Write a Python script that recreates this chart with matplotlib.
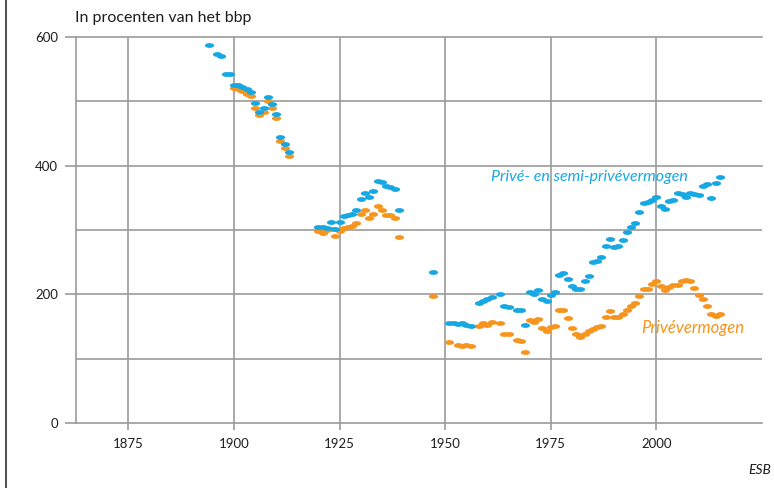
import numpy as np
import matplotlib
matplotlib.use("Agg")
import matplotlib.pyplot as plt
from matplotlib.path import Path
from matplotlib.lines import Line2D

# Privé- en semi-privévermogen (blauw)
blue_years = [1894, 1896, 1897, 1898, 1899, 1900, 1901, 1902, 1903, 1904, 1905, 1906, 1907, 1908, 1909,
              1910, 1911, 1912, 1913,
              1920, 1921, 1922, 1923, 1924, 1925, 1926, 1927, 1928, 1929, 1930, 1931, 1932, 1933, 1934,
              1935, 1936, 1937, 1938, 1939, 1947,
              1951, 1952, 1953, 1954, 1955, 1956, 1958, 1959, 1960, 1961, 1963, 1964, 1965, 1967, 1968,
              1969, 1970, 1971, 1972, 1973, 1974, 1975, 1976, 1977, 1978, 1979, 1980, 1981, 1982, 1983,
              1984, 1985, 1986, 1987, 1988, 1989, 1990, 1991, 1992, 1993, 1994, 1995, 1996, 1997, 1998,
              1999, 2000, 2001, 2002, 2003, 2004, 2005, 2006, 2007, 2008, 2009, 2010, 2011, 2012, 2013,
              2014, 2015]
blue_vals = [588, 574, 570, 543, 543, 526, 525, 522, 519, 515, 497, 484, 490, 507, 496,
             480, 445, 434, 421,
             304, 304, 303, 313, 302, 313, 321, 323, 325, 331, 348, 358, 351, 361, 376,
             374, 369, 367, 364, 331, 235,
             155, 155, 154, 156, 153, 151, 187, 190, 192, 196, 200, 182, 181, 176, 175,
             153, 204, 200, 207, 192, 190, 199, 203, 230, 233, 224, 213, 208, 208, 220,
             228, 251, 252, 258, 275, 286, 274, 275, 285, 297, 305, 311, 328, 342, 344,
             347, 352, 337, 332, 345, 346, 357, 356, 351, 357, 356, 355, 368, 371, 350,
             373, 383]

# Privévermogen (oranje)
orange_years = [1900, 1901, 1902, 1903, 1904, 1905, 1906, 1907, 1908, 1909, 1910, 1911, 1912, 1913,
                1920, 1921, 1922, 1923, 1924, 1925, 1926, 1927, 1928, 1929, 1930, 1931, 1932, 1933,
                1934, 1935, 1936, 1937, 1938, 1939, 1947,
                1951, 1953, 1954, 1955, 1956, 1958, 1959, 1960, 1961, 1963, 1964, 1965, 1967, 1968,
                1969, 1970, 1971, 1972, 1973, 1974, 1975, 1976, 1977, 1978, 1979, 1980, 1981, 1982,
                1983, 1984, 1985, 1986, 1987, 1988, 1989, 1990, 1991, 1992, 1993, 1994, 1995, 1996,
                1997, 1998, 1999, 2000, 2001, 2002, 2003, 2004, 2005, 2006, 2007, 2008, 2009, 2010,
                2011, 2012, 2013, 2014, 2015]
orange_vals = [520, 519, 516, 512, 509, 490, 478, 484, 501, 490, 474, 439, 428, 415,
               298, 296, 300, 302, 291, 298, 303, 304, 306, 311, 325, 331, 319, 325,
               337, 331, 323, 323, 319, 289, 197,
               126, 121, 120, 121, 119, 151, 155, 153, 157, 155, 139, 138, 129, 127,
               110, 160, 157, 161, 147, 143, 149, 151, 176, 176, 163, 148, 138, 134,
               139, 143, 146, 150, 151, 164, 174, 164, 164, 169, 175, 182, 186, 197,
               209, 209, 216, 221, 213, 207, 212, 214, 215, 220, 222, 220, 210, 199,
               192, 182, 169, 167, 170]

x_ticks = [1875, 1900, 1925, 1950, 1975, 2000]
y_ticks = [0, 200, 400, 600]
y_grid = [100, 300, 500]

BLUE = "#16a8e3"
ORANGE = "#f7941d"
GRID = "#9b9b9b"
TEXT = "#1e1e1e"

plt.rcParams['font.family'] = ['Lato', 'DejaVu Sans']

# platte ellips als marker
t = np.linspace(0, 2 * np.pi, 40)
ellipse = Path(np.column_stack([np.cos(t) * 1.9, np.sin(t)]), closed=True)

fig = plt.figure(figsize=(7.74, 4.88), dpi=100)
ax = fig.add_axes([76 / 774, 1 - 423 / 488, (762 - 76) / 774, (423 - 37) / 488])

ax.set_xlim(1862.6, 2025)
ax.set_ylim(0, 600)

for yv in y_grid:
    ax.axhline(yv, color=GRID, lw=1.2, zorder=1)
for yv in y_ticks[1:]:
    ax.axhline(yv, color=GRID, lw=1.2, zorder=1, clip_on=False)
for xv in x_ticks:
    ax.axvline(xv, color=GRID, lw=1.2, zorder=1)

ax.plot(orange_years, orange_vals, ls='none', marker=ellipse, ms=6.6,
        color=ORANGE, mec='none', zorder=3)
ax.plot(blue_years, blue_vals, ls='none', marker=ellipse, ms=6.6,
        color=BLUE, mec='none', zorder=4)

ax.set_xticks(x_ticks)
ax.set_yticks(y_ticks)
ax.tick_params(axis='both', colors=GRID, labelcolor=TEXT, labelsize=9.5, width=1.2)
ax.tick_params(axis='y', length=8, pad=5)
ax.tick_params(axis='x', length=5, pad=6)

for side in ['top', 'right']:
    ax.spines[side].set_visible(False)
ax.spines['left'].set_color(GRID)
ax.spines['bottom'].set_color(GRID)
ax.spines['left'].set_linewidth(1.2)
ax.spines['bottom'].set_linewidth(1.2)

fig.text(75 / 774, 1 - 18 / 488, "In procenten van het bbp", fontsize=11.5,
         color=TEXT, va='center', ha='left')
ax.text(1960.8, 382, "Privé- en semi-privévermogen", fontsize=11.5, style='italic',
        color=BLUE, ha='left', va='center')
ax.text(1996.3, 148, "Privévermogen", fontsize=12, style='italic',
        color=ORANGE, ha='left', va='center')
fig.text(771 / 774, 1 - 470 / 488, "ESB", fontsize=10, style='italic',
         color=TEXT, ha='right', va='center')

fig.add_artist(Line2D([6 / 774, 6 / 774], [0, 1], color="#555555", lw=1.5))

fig.savefig("out.png", dpi=100)
